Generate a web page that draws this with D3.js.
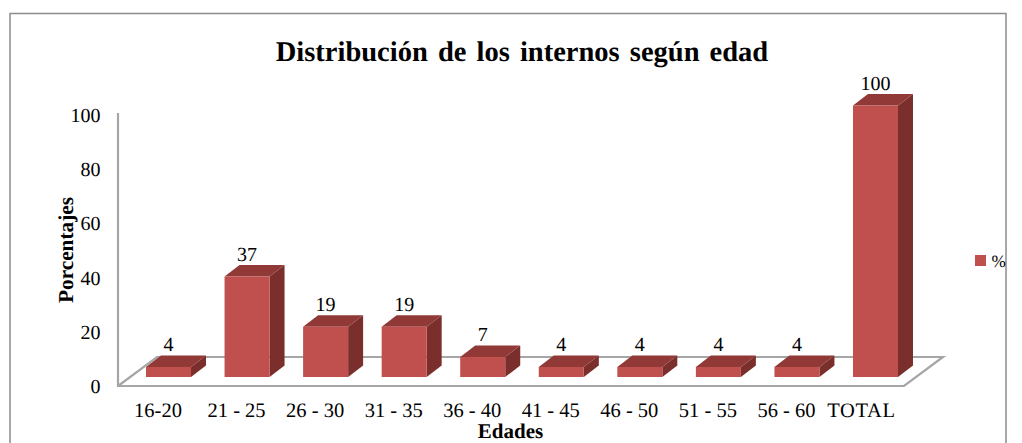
<!DOCTYPE html>
<html>
<head>
<meta charset="utf-8">
<script src="https://cdnjs.cloudflare.com/ajax/libs/d3/7.8.5/d3.min.js"></script>
<style>
    html, body { margin: 0; padding: 0; background: #fff; overflow: hidden; }
    text { font-family: "Liberation Serif", serif; fill: #000; text-rendering: geometricPrecision; }
</style>
</head>
<body>
<svg id="chart"></svg>
<script>
var width = 1022, height = 443;

var categories = ['16-20', '21 - 25', '26 - 30', '31 - 35', '36 - 40', '41 - 45', '46 - 50', '51 - 55', '56 - 60', 'TOTAL'];
// bar heights, the labels show them rounded
var values = [3.7, 37, 18.5, 18.5, 7.4, 3.7, 3.7, 3.7, 3.7, 100];
var yTicks = [0, 20, 40, 60, 80, 100];

var svg = d3.select("#chart")
    .attr("width", width)
    .attr("height", height)
    .attr("viewBox", `0 0 ${width} ${height}`);

// depth of the fake 3d box
var barDx = 15, barDy = -11.5;
var floorDx = 39, floorDy = -29;

var x = d3.scaleBand()
    .domain(categories)
    .range([146, 898])
    .paddingInner(0.427)
    .paddingOuter(0);

// bars stand a little in front of the floor edge
var yBar = d3.scaleLinear().domain([0, 100]).range([377, 105.5]);
var yAxis = d3.scaleLinear().domain([0, 100]).range([386, 115]);

// chart frame
svg.append("rect")
    .attr("x", 10).attr("y", 13.5)
    .attr("width", 996).attr("height", 440)
    .attr("fill", "none")
    .attr("stroke", "#8c8c8c")
    .attr("stroke-width", 1.5);

svg.append("text")
    .attr("x", 522).attr("y", 61)
    .attr("text-anchor", "middle")
    .attr("font-size", 28.5)
    .attr("font-weight", "bold")
    .attr("word-spacing", 3)
    .text("Distribución de los internos según edad");

// floor and wall edge
var y0 = yAxis(0);
svg.append("path")
    .attr("d", `M118,113V${y0}H904L${904 + floorDx},${y0 + floorDy}H${118 + floorDx}L118,${y0}`)
    .attr("fill", "none")
    .attr("stroke", "#a6a6a6")
    .attr("stroke-width", 2.2);

svg.append("g")
    .selectAll("text")
    .data(yTicks)
    .enter()
    .append("text")
    .attr("x", 100.5)
    .attr("y", d => yAxis(d) + 7)
    .attr("text-anchor", "end")
    .attr("font-size", 20)
    .text(d => d);

svg.append("g")
    .selectAll("text")
    .data(categories)
    .enter()
    .append("text")
    .attr("x", d => x(d) + x.bandwidth() / 2 - (d == 'TOTAL' ? 14 : 10.5))
    .attr("y", 417)
    .attr("text-anchor", "middle")
    .attr("font-size", 20.5)
    .attr("letter-spacing", d => d == 'TOTAL' ? 0.7 : 0)
    .text(d => d);

var bars = svg.append("g")
    .selectAll("g")
    .data(values)
    .enter()
    .append("g");

var barX = (d, i) => x(categories[i]);
var bw = x.bandwidth();

bars.append("path")
    .attr("fill", "#7b2f2d")
    .attr("d", (d, i) => {
        var r = barX(d, i) + bw;
        return `M${r},${yBar(d)}l${barDx},${barDy}V${yBar(0) + barDy}l${-barDx},${-barDy}Z`;
    });

bars.append("path")
    .attr("fill", "#903936")
    .attr("d", (d, i) => `M${barX(d, i)},${yBar(d)}l${barDx},${barDy}h${bw}l${-barDx},${-barDy}Z`);

bars.append("rect")
    .attr("x", barX)
    .attr("y", d => yBar(d))
    .attr("width", bw)
    .attr("height", d => yBar(0) - yBar(d))
    .attr("fill", "#c0504d");

bars.append("text")
    .attr("x", (d, i) => barX(d, i) + bw / 2)
    .attr("y", d => yBar(d) - 16)
    .attr("text-anchor", "middle")
    .attr("font-size", 20)
    .text(d => Math.round(d));

svg.append("text")
    .attr("transform", "translate(73,250) rotate(-90)")
    .attr("text-anchor", "middle")
    .attr("font-size", 21.3)
    .attr("font-weight", "bold")
    .text("Porcentajes");

svg.append("text")
    .attr("x", 510.5).attr("y", 437.5)
    .attr("text-anchor", "middle")
    .attr("font-size", 21)
    .attr("font-weight", "bold")
    .text("Edades");

// legend
svg.append("rect")
    .attr("x", 975).attr("y", 255)
    .attr("width", 11).attr("height", 11)
    .attr("fill", "#c0504d");

svg.append("text")
    .attr("x", 991.5).attr("y", 267)
    .attr("font-size", 17.2)
    .text("%");
</script>
</body>
</html>
